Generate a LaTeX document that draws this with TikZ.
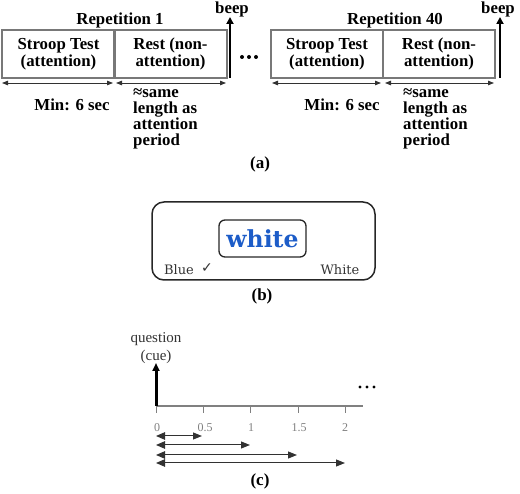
\documentclass[tikz,border=0pt]{standalone}
\usepackage{fontspec}
\setmainfont{Liberation Serif}
\newfontfamily\dvserif{DejaVu Serif}
\newfontfamily\dvsans{DejaVu Sans}
\usetikzlibrary{arrows.meta}
\definecolor{wblue}{RGB}{28,92,200}
\definecolor{boxgray}{RGB}{120,120,120}
\definecolor{txtgray}{RGB}{50,50,50}
\begin{document}
\begin{tikzpicture}[x=1pt,y=-1pt,
  phasebox/.style={draw=boxgray, line width=1.1pt, minimum height=48pt, inner sep=0pt, align=center,
    font=\fontsize{16.8}{17}\selectfont\bfseries},
  bold16/.style={font=\fontsize{16.8}{16}\selectfont\bfseries, inner sep=0pt},
  note/.style={font=\fontsize{16.8}{16}\selectfont\bfseries, inner sep=0pt, align=left, anchor=north west},
  span/.style={draw=txtgray, line width=0.8pt, {Triangle[length=6pt,width=4.5pt]}-{Triangle[length=6pt,width=4.5pt]}},
  beeparrow/.style={draw=black, line width=2.6pt, -{Triangle[length=7pt,width=7pt]}},
  dot/.style={fill=black, circle, inner sep=0pt, minimum size=4pt},
  sublabel/.style={font=\fontsize{17}{17}\selectfont\bfseries, inner sep=0pt},
  cue/.style={font=\fontsize{15}{15}\selectfont, text=txtgray, inner sep=0pt},
  ticklab/.style={font=\fontsize{12}{12}\selectfont, text=gray, inner sep=0pt},
  lagarrow/.style={draw=txtgray, line width=1pt, {Triangle[length=9pt,width=7.5pt]}-{Triangle[length=9pt,width=7pt]}}
]
\useasboundingbox (0,0) rectangle (520,494);

% ---------------- (a) ----------------
\node[phasebox, minimum width=113pt] (st1) at (58.5,54) {Stroop Test\\(attention)};
\node[phasebox, minimum width=113pt] (re1) at (170.5,54) {Rest (non-\\attention)};
\node[phasebox, minimum width=112pt] (st2) at (327,54) {Stroop Test\\(attention)};
\node[phasebox, minimum width=112pt] (re2) at (439,54) {Rest (non-\\attention)};

\node[bold16] (rep1) at (120,20) {Repetition 1};
\node[bold16] (rep40) at (395,20) {Repetition 40};

\node[bold16] (beep1) at (232,9) {beep};
\node[bold16] (beep2) at (498,9) {beep};
\coordinate (b1base) at (230,78);
\coordinate (b1top) at (230,17);
\coordinate (b2base) at (500,78);
\coordinate (b2top) at (500,17);
\draw[beeparrow] (b1base) -- (b1top);
\draw[beeparrow] (b2base) -- (b2top);

\node[dot] (d1) at (242,57) {};
\node[dot] (d2) at (249,57) {};
\node[dot] (d3) at (256,57) {};

\coordinate (sp1a) at (2,83);   \coordinate (sp1b) at (113,83);
\coordinate (sp2a) at (116,83); \coordinate (sp2b) at (226,83);
\coordinate (sp3a) at (272,83); \coordinate (sp3b) at (381,83);
\coordinate (sp4a) at (385,83); \coordinate (sp4b) at (494,83);
\draw[span] (sp1a) -- (sp1b);
\draw[span] (sp2a) -- (sp2b);
\draw[span] (sp3a) -- (sp3b);
\draw[span] (sp4a) -- (sp4b);

\node[bold16] (min1) at (72,105) {Min: 6 sec};
\node[bold16] (min2) at (342,105) {Min: 6 sec};
\node[note] (same1) at (133,88) {≈same\\length as\\attention\\period};
\node[note] (same2) at (403,88) {≈same\\length as\\attention\\period};

\node[sublabel] (la) at (260,164) {(a)};

% ---------------- (b) ----------------
\node[draw=black!85, line width=1.5pt, rounded corners=12pt, minimum width=223pt, minimum height=78pt] (screen) at (263.5,241) {};
\node[draw=black!85, line width=1.3pt, rounded corners=6pt, minimum width=87pt, minimum height=37pt, inner sep=0pt,
      font=\dvserif\fontsize{23.5}{23.5}\selectfont\bfseries, text=wblue] (word) at (262.5,238.5) {white};
\node[font=\dvserif\fontsize{13}{13}\selectfont, text=black!80, inner sep=0pt] (optblue) at (179,270) {Blue};
\node[font=\dvsans\fontsize{14}{14}\selectfont, text=black!80, inner sep=0pt] (check) at (207,268) {✓};
\node[font=\dvserif\fontsize{13}{13}\selectfont, text=black!80, inner sep=0pt] (optwhite) at (340,270) {White};

\node[sublabel] (lb) at (262,296) {(b)};

% ---------------- (c) ----------------
\node[cue] (q1) at (156,339) {question};
\node[cue] (q2) at (156,357) {(cue)};
\coordinate (origin) at (156,406);
\coordinate (cuetop) at (156,363);
\coordinate (axisend) at (363,406);
\draw[draw=gray, line width=1.3pt] (origin) -- (axisend);
\draw[draw=black, line width=3pt, -{Triangle[length=8pt,width=7pt]}] (origin) -- (cuetop);
\foreach \x/\n in {156/t0, 203/t1, 250/t2, 298/t3, 345/t4}{
  \coordinate (\n a) at (\x,406);
  \coordinate (\n b) at (\x,413);
  \draw[draw=gray, line width=1pt] (\n a) -- (\n b);
}
\node[ticklab] (l0) at (157,428) {0};
\node[ticklab] (l1) at (205,428) {0.5};
\node[ticklab] (l2) at (251,428) {1};
\node[ticklab] (l3) at (299,428) {1.5};
\node[ticklab] (l4) at (345,428) {2};

\node[dot, minimum size=3.4pt] (e1) at (360,387) {};
\node[dot, minimum size=3.4pt] (e2) at (367,387) {};
\node[dot, minimum size=3.4pt] (e3) at (374,387) {};

\coordinate (a1s) at (156,436); \coordinate (a1e) at (202,436);
\coordinate (a2s) at (156,445); \coordinate (a2e) at (250,445);
\coordinate (a3s) at (156,455); \coordinate (a3e) at (297,455);
\coordinate (a4s) at (156,463); \coordinate (a4e) at (345,463);
\draw[lagarrow] (a1s) -- (a1e);
\draw[lagarrow] (a2s) -- (a2e);
\draw[lagarrow] (a3s) -- (a3e);
\draw[lagarrow] (a4s) -- (a4e);

\node[sublabel] (lc) at (260,481) {(c)};
\end{tikzpicture}
\end{document}
